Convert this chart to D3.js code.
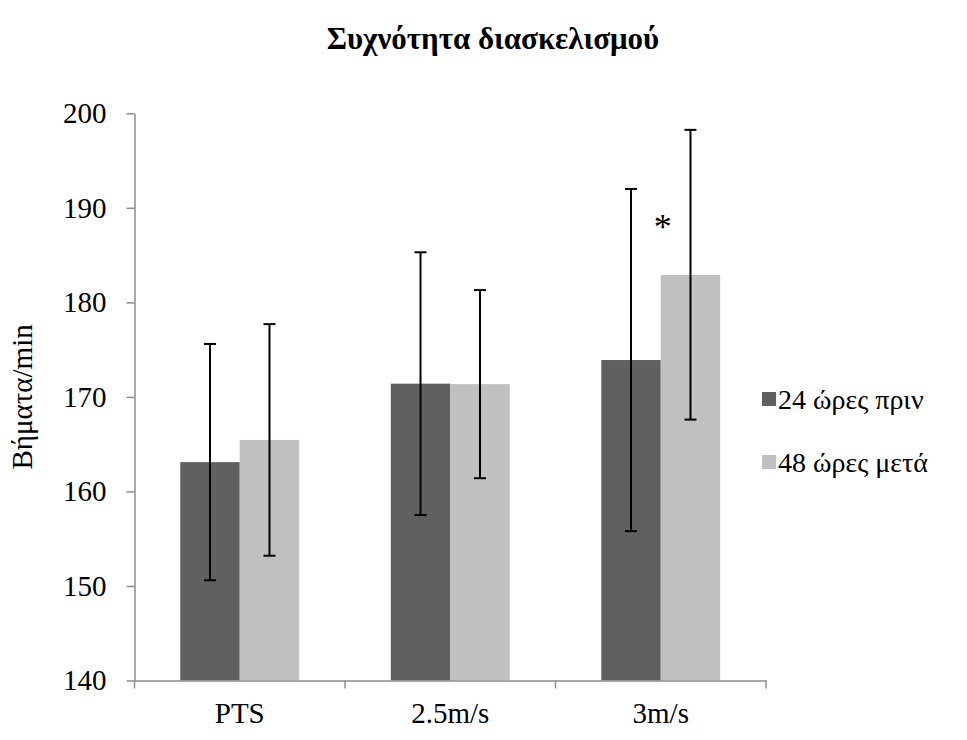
<!DOCTYPE html>
<html>
<head>
<meta charset="utf-8">
<script src="https://cdn.jsdelivr.net/npm/d3@7"></script>
<style>
  html, body { margin: 0; padding: 0; background: #fff; }
  svg { display: block; font-family: "Liberation Serif", "Times New Roman", serif; }
</style>
</head>
<body>
<svg id="chart" width="967" height="740"></svg>
<script>
// Stride frequency (steps/min) before and after, per running condition
const categories = ["PTS", "2.5m/s", "3m/s"];
const seriesNames = ["24 ώρες πριν", "48 ώρες μετά"];
const before = [163.1, 171.4, 173.9];
const after = [165.45, 171.35, 182.9];
const beforeLow = [150.6, 157.5, 155.8];
const beforeHigh = [175.6, 185.3, 192.0];
const afterLow = [153.2, 161.4, 167.6];
const afterHigh = [177.7, 181.3, 198.25];
const yTicks = [140, 150, 160, 170, 180, 190, 200];
const significant = [false, false, true]; // marked with * over the second series

const colors = ["#606060", "#c0c0c0"];
const axisColor = "#8c8c8c";
const serif = "'Liberation Serif', 'Times New Roman', serif";

const svg = d3.select("#chart");
const plotLeft = 134.5, plotRight = 766, plotTop = 113.3, plotBottom = 680.5;

const y = d3.scaleLinear().domain([140, 200]).range([plotBottom, plotTop]);
const x0 = d3.scaleBand().domain(categories).range([plotLeft, plotRight]).padding(0);
const bw = x0.bandwidth();
const gap = bw * 0.2175;
const x1 = d3.scaleBand().domain(seriesNames).range([gap, bw - gap]).padding(0);

const rows = categories.map((c, i) => ({
  cat: c,
  vals: [
    { s: seriesNames[0], v: before[i], lo: beforeLow[i], hi: beforeHigh[i], col: colors[0] },
    { s: seriesNames[1], v: after[i], lo: afterLow[i], hi: afterHigh[i], col: colors[1] }
  ],
  sig: significant[i]
}));

// Title
svg.append("text")
  .attr("x", 493).attr("y", 49)
  .attr("text-anchor", "middle")
  .attr("font-family", serif)
  .attr("font-size", 31).attr("font-weight", "bold")
  .text("Συχνότητα διασκελισμού");

// Bars
const groups = svg.append("g").selectAll("g").data(rows).join("g")
  .attr("transform", d => `translate(${x0(d.cat)},0)`);

groups.selectAll("rect").data(d => d.vals).join("rect")
  .attr("x", d => x1(d.s))
  .attr("width", x1.bandwidth())
  .attr("y", d => y(d.v))
  .attr("height", d => y(140) - y(d.v))
  .attr("fill", d => d.col);

// Error bars
const capW = 12;
const eb = groups.selectAll("g.err").data(d => d.vals).join("g").attr("class", "err")
  .attr("stroke", "#000").attr("stroke-width", 2);
eb.append("line")
  .attr("x1", d => x1(d.s) + x1.bandwidth() / 2)
  .attr("x2", d => x1(d.s) + x1.bandwidth() / 2)
  .attr("y1", d => y(d.hi)).attr("y2", d => y(d.lo));
eb.append("line")
  .attr("x1", d => x1(d.s) + x1.bandwidth() / 2 - capW / 2)
  .attr("x2", d => x1(d.s) + x1.bandwidth() / 2 + capW / 2)
  .attr("y1", d => y(d.hi)).attr("y2", d => y(d.hi));
eb.append("line")
  .attr("x1", d => x1(d.s) + x1.bandwidth() / 2 - capW / 2)
  .attr("x2", d => x1(d.s) + x1.bandwidth() / 2 + capW / 2)
  .attr("y1", d => y(d.lo)).attr("y2", d => y(d.lo));

// Significance marker
groups.filter(d => d.sig).append("text")
  .attr("x", x1(seriesNames[1]) + 2)
  .attr("y", y(186.7))
  .attr("text-anchor", "middle")
  .attr("font-family", serif)
  .attr("font-size", 36)
  .text("*");

// Y axis
const yAxis = svg.append("g")
  .attr("transform", `translate(${plotLeft},0)`)
  .call(d3.axisLeft(y).tickValues(yTicks).tickSize(8).tickPadding(20).tickSizeOuter(0));
yAxis.select(".domain").attr("stroke", axisColor).attr("stroke-width", 1.5);
yAxis.selectAll(".tick line").attr("stroke", axisColor).attr("stroke-width", 1.5);
yAxis.selectAll(".tick text").attr("font-size", 29).attr("fill", "#000")
  .attr("font-family", serif);

// X axis
const xAxis = svg.append("g")
  .attr("transform", `translate(0,${plotBottom})`)
  .call(d3.axisBottom(x0).tickSize(0).tickPadding(22));
xAxis.select(".domain").attr("stroke", axisColor).attr("stroke-width", 1.5);
xAxis.selectAll(".tick text").attr("font-size", 29).attr("fill", "#000")
  .attr("font-family", serif);
// Category boundary ticks
const bounds = categories.map(c => x0(c)).concat([x0(categories[categories.length - 1]) + bw]);
svg.append("g").selectAll("line").data(bounds).join("line")
  .attr("x1", d => d).attr("x2", d => d)
  .attr("y1", plotBottom).attr("y2", plotBottom + 8)
  .attr("stroke", axisColor).attr("stroke-width", 1.5);

// Y axis title
svg.append("text")
  .attr("transform", `translate(32,${(plotTop + plotBottom) / 2}) rotate(-90)`)
  .attr("text-anchor", "middle")
  .attr("font-family", serif)
  .attr("font-size", 29)
  .text("Βήματα/min");

// Legend
const legend = svg.append("g").selectAll("g").data(seriesNames).join("g")
  .attr("transform", (d, i) => `translate(762,${399 + i * 63})`);
legend.append("rect")
  .attr("x", 0).attr("y", -7).attr("width", 14).attr("height", 14)
  .attr("fill", (d, i) => colors[i]);
legend.append("text")
  .attr("x", 16).attr("y", 10)
  .attr("font-family", serif)
  .attr("font-size", 28)
  .text(d => d);
</script>
</body>
</html>
